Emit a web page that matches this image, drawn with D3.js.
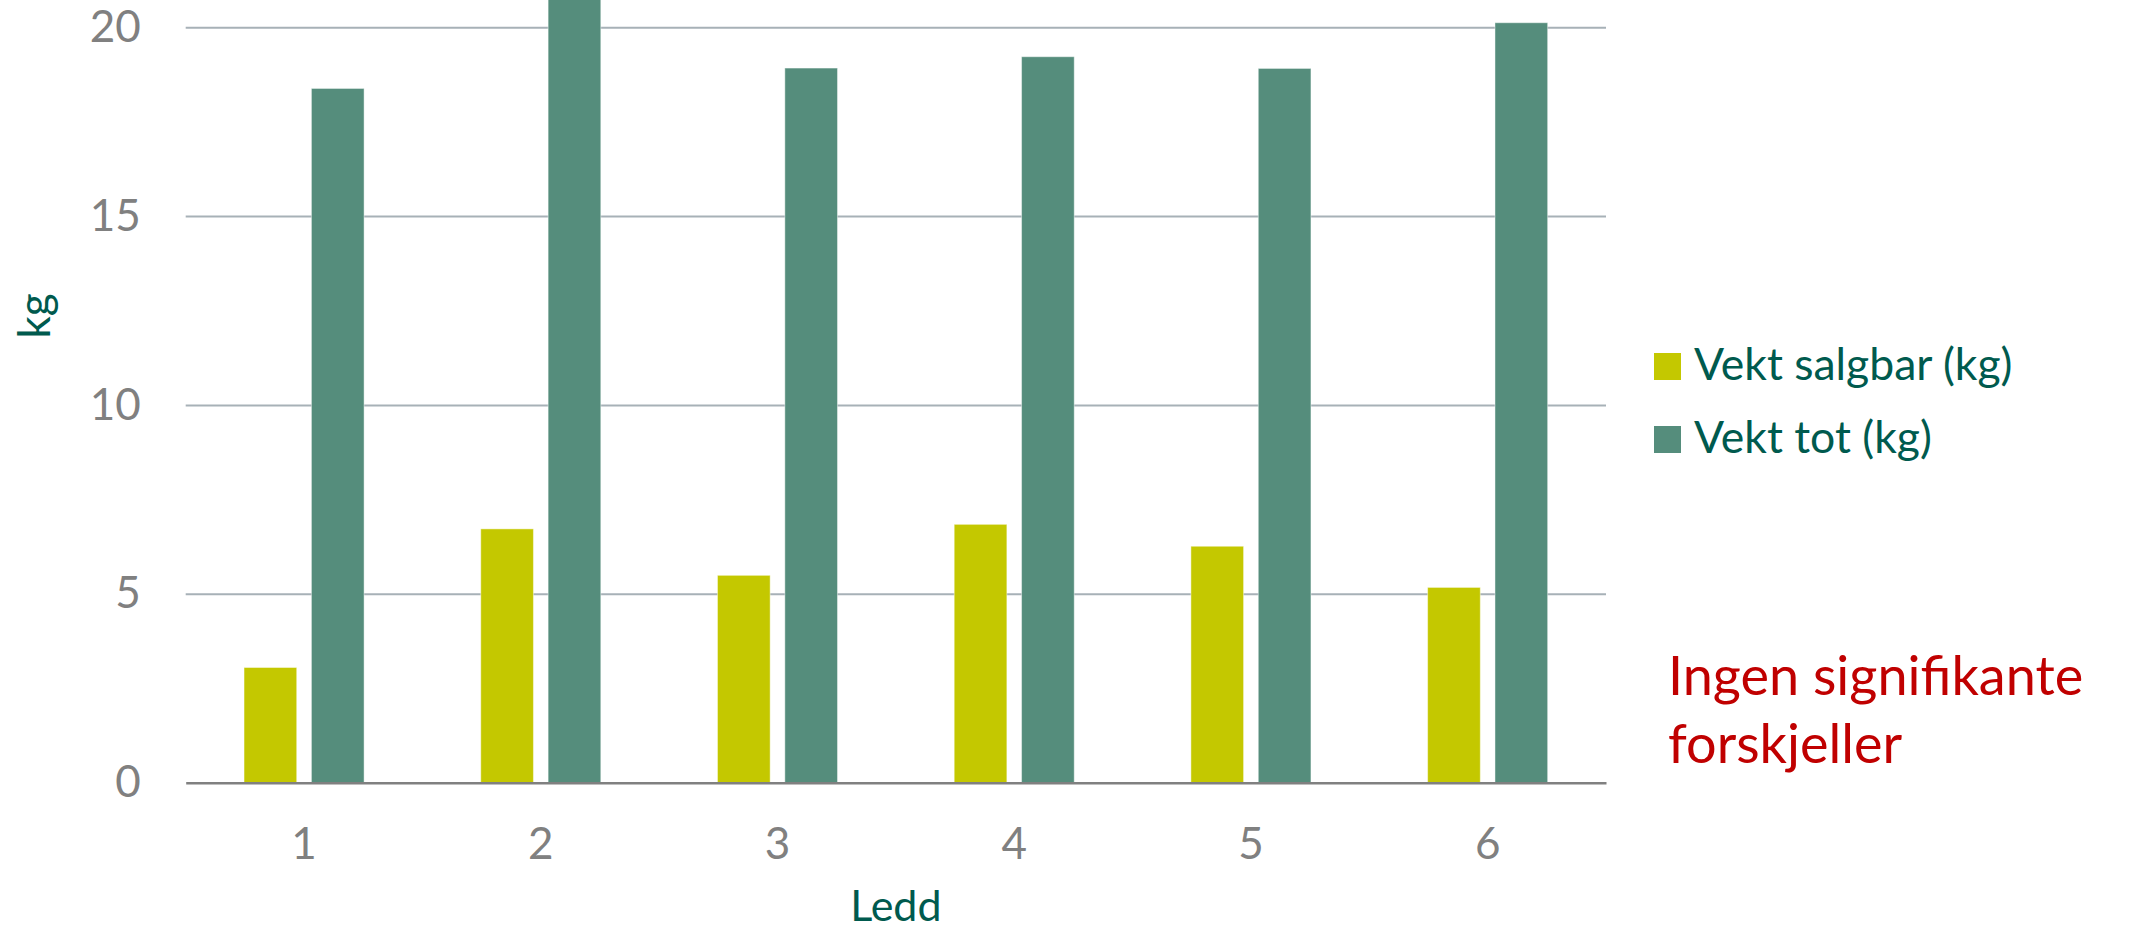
<!DOCTYPE html>
<html>
<head>
<meta charset="utf-8">
<script src="https://cdn.jsdelivr.net/npm/d3@7/dist/d3.min.js"></script>
<style>
  html, body { margin: 0; padding: 0; background: #ffffff; }
  svg { display: block; }
  text { font-family: Lato, "Open Sans", "Noto Sans", sans-serif; }
</style>
</head>
<body>
<svg id="chart" width="2152" height="930"></svg>
<script>
// Treatments (Ledd) and the two measured weights per treatment
const categories = ["1", "2", "3", "4", "5", "6"];
const seriesNames = ["Vekt salgbar (kg)", "Vekt tot (kg)"];
const vektSalgbar = [3.05, 6.72, 5.49, 6.84, 6.26, 5.17];
const vektTot = [18.38, 21.3, 18.92, 19.22, 18.91, 20.12];
const yTicks = [0, 5, 10, 15, 20];
const yMax = 25;

const colors = ["#c4c800", "#558d7c"];
const seriesValues = [vektSalgbar, vektTot];

const svg = d3.select("#chart");

// Plot frame (the upper part of the value axis runs past the top edge)
const left = 185.7, right = 1606;
const yBottom = 782.7, yTop = -161.6;

const x = d3.scaleBand().domain(categories).range([left, right]).paddingInner(0).paddingOuter(0);
const x1 = d3.scaleBand().domain(seriesNames).range([0, x.bandwidth()])
  .paddingInner(0.218).paddingOuter(0.866);
const y = d3.scaleLinear().domain([0, yMax]).range([yBottom, yTop]);

// Horizontal gridlines
const grid = svg.append("g")
  .attr("transform", `translate(${left},0)`)
  .call(d3.axisLeft(y).tickValues(yTicks.filter(t => t > 0)).tickSize(-(right - left)).tickFormat(""));
grid.select(".domain").remove();
grid.selectAll("line").attr("stroke", "#a7b1b7").attr("stroke-width", 2);

// Y tick labels
const yAxis = svg.append("g")
  .attr("transform", `translate(${left - 45},0)`)
  .call(d3.axisLeft(y).tickValues(yTicks).tickSize(0).tickPadding(0));
yAxis.select(".domain").remove();
yAxis.selectAll("text")
  .attr("fill", "#808080")
  .style("font-size", "44px")
  .style("font-family", "Lato, 'Open Sans', sans-serif");

// Bars
const rows = categories.map((c, i) => ({ cat: c, vals: seriesNames.map((s, j) => ({ s, v: seriesValues[j][i], j })) }));
svg.append("g").selectAll("g")
  .data(rows)
  .join("g")
  .attr("transform", d => `translate(${x(d.cat)},0)`)
  .selectAll("rect")
  .data(d => d.vals)
  .join("rect")
  .attr("x", d => x1(d.s))
  .attr("width", x1.bandwidth())
  .attr("y", d => y(d.v))
  .attr("height", d => y(0) - y(d.v))
  .attr("fill", d => colors[d.j])
  .attr("stroke", "rgba(255,255,255,0.45)")
  .attr("stroke-width", 1);

// Category axis
const xAxis = svg.append("g")
  .attr("transform", `translate(0,${yBottom})`)
  .call(d3.axisBottom(x).tickSize(0).tickPadding(0));
xAxis.select(".domain").attr("stroke", "#808080").attr("stroke-width", 2.5);
xAxis.selectAll("text")
  .attr("y", 76)
  .attr("dy", 0)
  .attr("fill", "#808080")
  .style("font-size", "44px")
  .style("font-family", "Lato, 'Open Sans', sans-serif");

// Axis titles
svg.append("text")
  .attr("x", (left + right) / 2)
  .attr("y", 921)
  .attr("text-anchor", "middle")
  .attr("fill", "#005a4e")
  .style("font-size", "43px")
  .text("Ledd");

svg.append("text")
  .attr("transform", "translate(50,316) rotate(-90)")
  .attr("text-anchor", "middle")
  .attr("fill", "#005a4e")
  .style("font-size", "44px")
  .text("kg");

// Legend
const legend = svg.append("g").selectAll("g")
  .data(seriesNames)
  .join("g")
  .attr("transform", (d, i) => `translate(1654,${353 + i * 73})`);
legend.append("rect")
  .attr("width", 27).attr("height", 27)
  .attr("fill", (d, i) => colors[i]);
legend.append("text")
  .attr("x", 40).attr("y", 27)
  .attr("fill", "#005a4e")
  .style("font-size", "44.5px")
  .text(d => d);

// Note
const note = svg.append("text")
  .attr("x", 1668)
  .attr("fill", "#c00000")
  .style("font-size", "54px");
note.append("tspan").attr("x", 1668).attr("y", 695).text("Ingen signifikante");
note.append("tspan").attr("x", 1668).attr("y", 763).text("forskjeller");
</script>
</body>
</html>
